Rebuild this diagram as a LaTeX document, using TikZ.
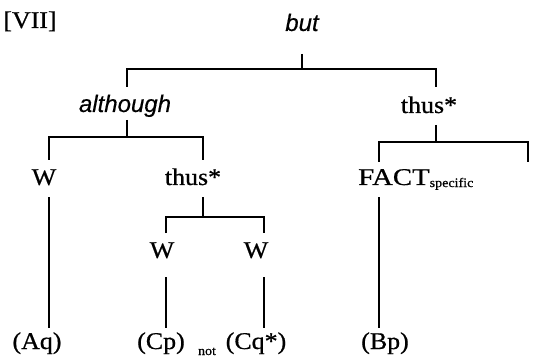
\documentclass[tikz,border=0pt]{standalone}
\usepackage{fontspec}
\setmainfont{Liberation Serif}[FakeBold=0.6]
\newfontfamily\arialfam{Liberation Sans}[FakeBold=0.4]
\newcommand\wid[1]{\scalebox{1.08}[1]{#1}}
\begin{document}
\begin{tikzpicture}[x=1pt,y=-1pt,
  txt/.style={anchor=base,inner sep=0pt,font=\fontsize{24}{28}\selectfont},
  itx/.style={anchor=base,inner sep=0pt,font=\fontsize{24}{28}\selectfont\arialfam\itshape},
  small/.style={anchor=base,inner sep=0pt,font=\fontsize{13}{15}\selectfont},
  ln/.style={line width=1.1pt}]
\useasboundingbox (0,0) rectangle (534,363);
% texts
\node[txt] (vii) at (30,28) {\wid{[VII]}};
\node[itx] (but) at (302,31) {but};
\node[itx] (although) at (125,112) {although};
\node[txt] (thusR) at (429,113) {\wid{thus*}};
\node[txt] (wL) at (44,185) {\wid{W}};
\node[txt] (thusM) at (193,185) {\wid{thus*}};
\node[txt,anchor=base west] (fact) at (358,185) {\scalebox{1.2}[1]{FACT}\raisebox{-2pt}{\fontsize{13}{15}\selectfont\wid{specific}}};
\node[txt] (w1) at (162,258) {\wid{W}};
\node[txt] (w2) at (256,258) {\wid{W}};
\node[txt] (aq) at (37,349) {\wid{(Aq)}};
\node[txt] (cp) at (161,349) {\wid{(Cp)}};
\node[small] (not) at (207,355) {\wid{not}};
\node[txt] (cq) at (256,349) {\wid{(Cq*)}};
\node[txt] (bp) at (385,349) {\wid{(Bp)}};
% junction coordinates
\coordinate (butD) at (302,54);
\coordinate (barTL) at (127,69);
\coordinate (barTR) at (436,69);
\coordinate (althU) at (127,87);
\coordinate (thusRU) at (436,87);
\coordinate (althD) at (127,120);
\coordinate (barAL) at (49,137);
\coordinate (barAR) at (203,137);
\coordinate (wLU) at (49,160);
\coordinate (thusMU) at (203,160);
\coordinate (wLD) at (49,197);
\coordinate (aqU) at (49,328);
\coordinate (thusMD) at (203,197);
\coordinate (barML) at (166,217);
\coordinate (barMR) at (264,217);
\coordinate (w1U) at (166,233);
\coordinate (w2U) at (264,233);
\coordinate (w1D) at (166,277);
\coordinate (w2D) at (264,277);
\coordinate (cpU) at (166,328);
\coordinate (cqU) at (264,328);
\coordinate (thusRD) at (436,125);
\coordinate (barRL) at (379,142);
\coordinate (barRR) at (528,142);
\coordinate (factU) at (379,162);
\coordinate (emptyU) at (528,162);
\coordinate (factD) at (379,197);
\coordinate (bpU) at (379,328);
% connectors
\draw[ln] (butD) -- (butD |- barTL);
\draw[ln] (althU) -- (barTL) -- (barTR) -- (thusRU);
\draw[ln] (althD) -- (althD |- barAL);
\draw[ln] (wLU) -- (barAL) -- (barAR) -- (thusMU);
\draw[ln] (wLD) -- (aqU);
\draw[ln] (thusMD) -- (thusMD |- barML);
\draw[ln] (w1U) -- (barML) -- (barMR) -- (w2U);
\draw[ln] (w1D) -- (cpU);
\draw[ln] (w2D) -- (cqU);
\draw[ln] (thusRD) -- (thusRD |- barRL);
\draw[ln] (factU) -- (barRL) -- (barRR) -- (emptyU);
\draw[ln] (factD) -- (bpU);
\end{tikzpicture}
\end{document}
